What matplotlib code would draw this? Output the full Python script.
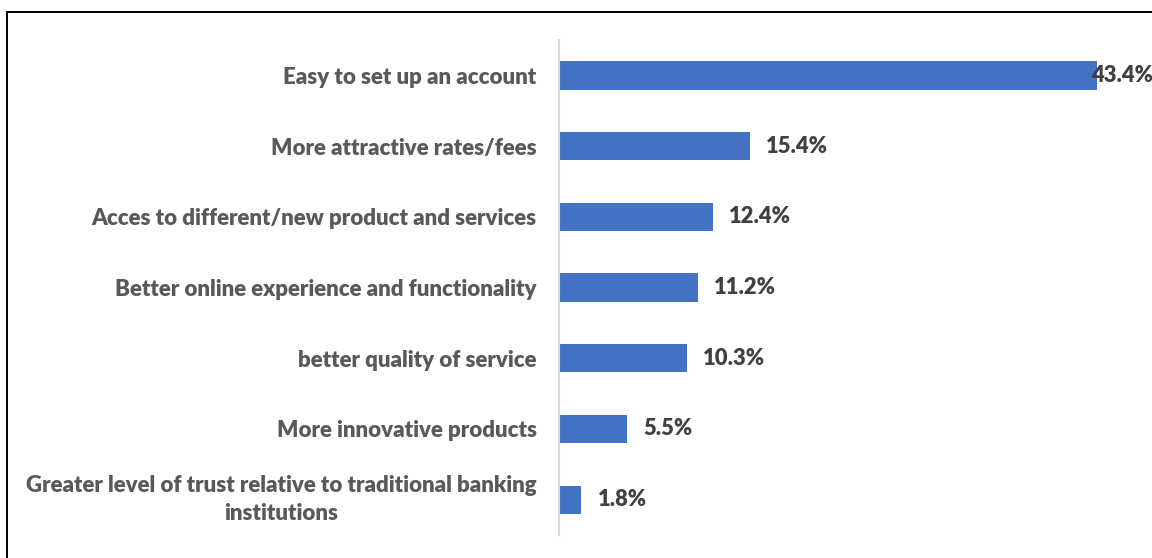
import matplotlib.pyplot as plt
from matplotlib.lines import Line2D

plt.rcParams.update({
    "font.family": ["Lato", "DejaVu Sans"],
    "font.weight": "heavy",
})

categories = [
    "Easy to set up an account",
    "More attractive rates/fees",
    "Acces to different/new product and services",
    "Better online experience and functionality",
    "better quality of service",
    "More innovative products",
    "Greater level of trust relative to traditional banking\ninstitutions",
]
values = [43.4, 15.4, 12.4, 11.2, 10.3, 5.5, 1.8]

bar_color = "#4472C4"
label_grey = "#595959"
value_grey = "#404040"

fig = plt.figure(figsize=(11.52, 5.58), dpi=100)
ax = fig.add_axes([0.4852, 0.0412, 0.513, 0.887])

ypos = list(range(len(categories)))
ax.barh(ypos, values, height=0.4, color=bar_color)
ax.set_ylim(len(categories) - 0.5, -0.5)
ax.set_xlim(0, 47.7)

ax.set_yticks(ypos)
ticklabels = ax.set_yticklabels(categories, fontsize=16, color=label_grey,
                                fontweight="heavy", ha="right",
                                multialignment="center", linespacing=1.45)
for t in ticklabels:
    if "\n" in t.get_text():
        t.set_va("center")
ax.tick_params(axis="y", length=0, pad=16)
ax.set_xticks([])

for s in ["top", "right", "bottom"]:
    ax.spines[s].set_visible(False)
ax.spines["left"].set_color("#d9d9d9")
ax.spines["left"].set_linewidth(1.5)

# value labels at bar ends; the longest one sits on top of its bar end
for y, v in zip(ypos, values):
    dx = -4 if v == max(values) else 12
    ax.annotate(f"{v}%", (v, y), xytext=(dx, 0), textcoords="offset points",
                va="center", ha="left", fontsize=15.8, color=value_grey,
                fontweight="heavy")

# frame lines along the left and top edges
fig.add_artist(Line2D([0.0061, 0.0061], [0, 0.9785], color="black", lw=1.4,
                      transform=fig.transFigure))
fig.add_artist(Line2D([0.0061, 1.0], [0.9785, 0.9785], color="black", lw=1.4,
                      transform=fig.transFigure))

fig.savefig("out.png", dpi=100)
